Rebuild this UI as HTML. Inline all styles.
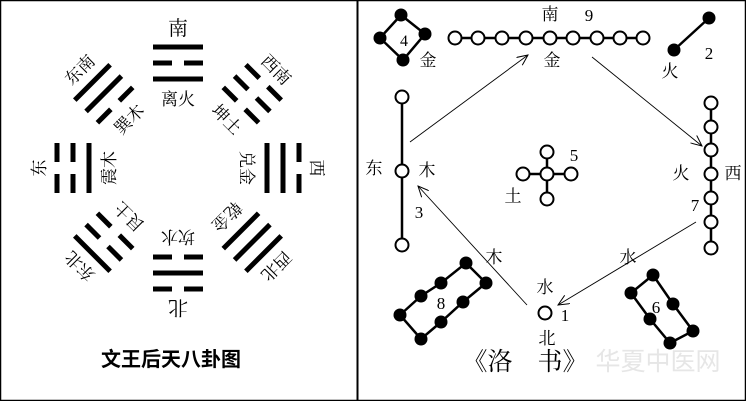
<!DOCTYPE html>
<html><head><meta charset="utf-8"><style>
html,body{margin:0;padding:0;background:#fff}
svg{display:block}
text{font-family:"Liberation Serif","Noto Serif CJK SC","Noto Sans CJK SC",serif;fill:#000}
</style></head><body>
<svg width="746" height="401" viewBox="0 0 746 401" xmlns="http://www.w3.org/2000/svg">
<defs>
<marker id="ar" markerWidth="12" markerHeight="10" refX="11" refY="5" orient="auto" markerUnits="userSpaceOnUse">
<path d="M0,0 L11,5 L0,10" fill="none" stroke="#000" stroke-width="1"/>
</marker>
<g id="sol"><rect x="-25" y="-2.5" width="50" height="5"/></g>
<g id="brk"><rect x="-25" y="-2.5" width="19" height="5"/><rect x="6" y="-2.5" width="19" height="5"/></g>
</defs>
<rect x="0.5" y="0.5" width="745" height="400" fill="none" stroke="#000" stroke-width="1.5"/>
<line x1="357.5" y1="0" x2="357.5" y2="401" stroke="#000" stroke-width="2"/>

<!-- Left: trigrams -->
<g transform="translate(178,168)" font-size="17">
 <g transform="rotate(0)"><use href="#sol" y="-121"/><use href="#brk" y="-105"/><use href="#sol" y="-89"/>
  <text x="0" y="-133" text-anchor="middle" font-size="20">南</text><text x="0" y="-63" text-anchor="middle">离火</text></g>
 <g transform="rotate(45)"><use href="#brk" y="-121"/><use href="#brk" y="-105"/><use href="#brk" y="-89"/>
  <text x="0" y="-133" text-anchor="middle">西南</text><text x="0" y="-63" text-anchor="middle">坤土</text></g>
 <g transform="rotate(90)"><use href="#brk" y="-121"/><use href="#sol" y="-105"/><use href="#sol" y="-89"/>
  <text x="0" y="-133" text-anchor="middle">西</text><text x="0" y="-63" text-anchor="middle">兑金</text></g>
 <g transform="rotate(135)"><use href="#sol" y="-121"/><use href="#sol" y="-105"/><use href="#sol" y="-89"/>
  <text x="0" y="-133" text-anchor="middle">西北</text><text x="0" y="-63" text-anchor="middle">乾金</text></g>
 <g transform="rotate(180)"><use href="#brk" y="-121"/><use href="#sol" y="-105"/><use href="#brk" y="-89"/>
  <text x="0" y="-133" text-anchor="middle" font-size="20">北</text><text x="0" y="-63" text-anchor="middle">坎水</text></g>
 <g transform="rotate(225)"><use href="#sol" y="-121"/><use href="#brk" y="-105"/><use href="#brk" y="-89"/>
  <text x="0" y="-133" text-anchor="middle">东北</text><text x="0" y="-63" text-anchor="middle">艮土</text></g>
 <g transform="rotate(270)"><use href="#brk" y="-121"/><use href="#brk" y="-105"/><use href="#sol" y="-89"/>
  <text x="0" y="-133" text-anchor="middle">东</text><text x="0" y="-63" text-anchor="middle">震木</text></g>
 <g transform="rotate(315)"><use href="#sol" y="-121"/><use href="#sol" y="-105"/><use href="#brk" y="-89"/>
  <text x="0" y="-133" text-anchor="middle">东南</text><text x="0" y="-63" text-anchor="middle">巽木</text></g>
</g>
<text x="171" y="366" text-anchor="middle" font-size="20" font-weight="bold" style="font-family:'Noto Sans CJK SC',sans-serif">文王后天八卦图</text>

<!-- Right: Luoshu -->
<g stroke="#000" stroke-width="2.5" fill="none">
 <polygon points="401,15 425,34 403,60 380,38"/>
 <line x1="455" y1="38" x2="643" y2="38"/>
 <line x1="709" y1="18" x2="674" y2="50"/>
 <line x1="402" y1="97" x2="402" y2="245"/>
 <line x1="711" y1="103" x2="711" y2="248"/>
 <line x1="547" y1="152" x2="547" y2="199"/><line x1="523" y1="174" x2="571" y2="174"/>
 <polygon points="400,315 421,296 441,283 466,263 486,283 463,302 441,322 421,339"/>
 <polygon points="653,275 673,304 693,331 670,343 650,319 631,293"/>
</g>
<g fill="#000">
 <circle cx="401" cy="15" r="6.5"/><circle cx="425" cy="34" r="6.5"/><circle cx="403" cy="60" r="6.5"/><circle cx="380" cy="38" r="6.5"/>
 <circle cx="709" cy="18" r="6.5"/><circle cx="674" cy="50" r="6.5"/>
 <circle cx="400" cy="315" r="6.5"/><circle cx="421" cy="296" r="6.5"/><circle cx="441" cy="283" r="6.5"/><circle cx="466" cy="263" r="6.5"/><circle cx="486" cy="283" r="6.5"/><circle cx="463" cy="302" r="6.5"/><circle cx="441" cy="322" r="6.5"/><circle cx="421" cy="339" r="6.5"/>
 <circle cx="653" cy="275" r="6.5"/><circle cx="673" cy="304" r="6.5"/><circle cx="693" cy="331" r="6.5"/><circle cx="670" cy="343" r="6.5"/><circle cx="650" cy="319" r="6.5"/><circle cx="631" cy="293" r="6.5"/>
</g>
<g fill="#fff" stroke="#000" stroke-width="2">
 <circle cx="455" cy="38" r="6.5"/><circle cx="478" cy="38" r="6.5"/><circle cx="502" cy="38" r="6.5"/><circle cx="526" cy="38" r="6.5"/><circle cx="550" cy="38" r="6.5"/><circle cx="573" cy="38" r="6.5"/><circle cx="597" cy="38" r="6.5"/><circle cx="620" cy="38" r="6.5"/><circle cx="643" cy="38" r="6.5"/>
 <circle cx="402" cy="97" r="6.5"/><circle cx="402" cy="171" r="6.5"/><circle cx="402" cy="245" r="6.5"/>
 <circle cx="711" cy="103" r="6.5"/><circle cx="711" cy="127" r="6.5"/><circle cx="711" cy="150" r="6.5"/><circle cx="711" cy="174" r="6.5"/><circle cx="711" cy="198" r="6.5"/><circle cx="711" cy="222" r="6.5"/><circle cx="711" cy="248" r="6.5"/>
 <circle cx="547" cy="174" r="6.5"/><circle cx="547" cy="152" r="6.5"/><circle cx="547" cy="199" r="6.5"/><circle cx="523" cy="174" r="6.5"/><circle cx="571" cy="174" r="6.5"/>
 <circle cx="545" cy="313" r="6.5"/>
</g>
<g stroke="#000" stroke-width="0.9" fill="none" marker-end="url(#ar)">
 <line x1="410" y1="142" x2="528" y2="55"/>
 <line x1="592" y1="57" x2="702" y2="146"/>
 <line x1="696" y1="222" x2="558" y2="305"/>
 <line x1="527" y1="305" x2="418" y2="186"/>
</g>
<g font-size="17" text-anchor="middle">
 <text x="404" y="46" font-size="16">4</text>
 <text x="428" y="66">金</text>
 <text x="550" y="20">南</text><text x="589" y="21">9</text>
 <text x="552" y="66">金</text>
 <text x="709" y="59">2</text><text x="670" y="77">火</text>
 <text x="374" y="174">东</text><text x="427" y="176">木</text><text x="419" y="218">3</text>
 <text x="681" y="179">火</text><text x="733" y="179">西</text><text x="695" y="211">7</text>
 <text x="574" y="161">5</text><text x="513" y="202">土</text>
 <text x="441" y="309">8</text><text x="656" y="313">6</text>
 <text x="545" y="293">水</text><text x="565" y="321">1</text><text x="547" y="344">北</text>
 <text x="494" y="263">木</text><text x="628" y="263">水</text>
</g>
<text x="525" y="370" text-anchor="middle" font-size="25">《洛　书》</text>
<text x="658" y="370" text-anchor="middle" font-size="25" fill="#e8e8e8" style="fill:#e6e6e6;font-family:'Noto Sans CJK SC',sans-serif">华夏中医网</text>
</svg>
</body></html>
